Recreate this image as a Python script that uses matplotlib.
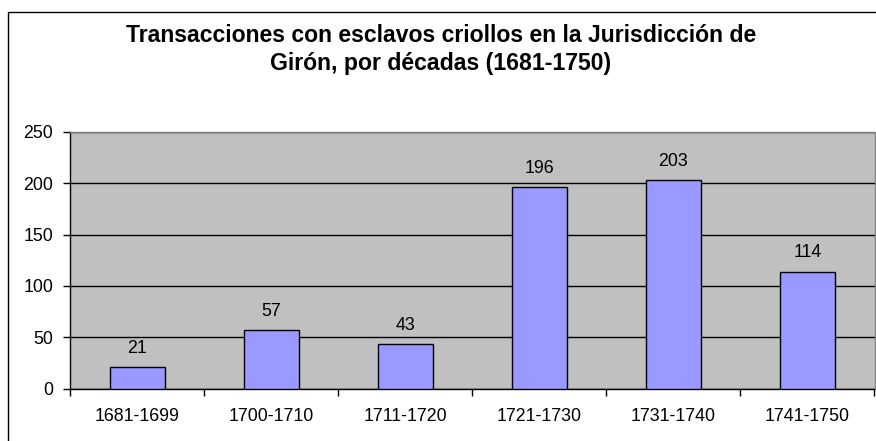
import matplotlib
matplotlib.use("Agg")
import matplotlib.pyplot as plt
from matplotlib.patches import Rectangle

categories = ["1681-1699", "1700-1710", "1711-1720", "1721-1730", "1731-1740", "1741-1750"]
values = [21, 57, 43, 196, 203, 114]
yticks = [0, 50, 100, 150, 200, 250]
title_lines = ["Transacciones con esclavos criollos en la Jurisdicción de",
               "Girón, por décadas (1681-1750)"]

plt.rcParams['font.family'] = ['Liberation Sans', 'DejaVu Sans']

W, H = 876, 441
fig = plt.figure(figsize=(W / 100, H / 100), dpi=100)
fig.patch.set_facecolor('white')

# outer chart border (cropped at right/bottom)
fig.add_artist(Rectangle((7.5 / W, -0.1), 1.2, 1.1 - 12 / H, transform=fig.transFigure,
                         fill=False, edgecolor='black', linewidth=1.0))

left, right, top, bottom = 70, 874.5, 132, 388.5
ax = fig.add_axes([left / W, 1 - bottom / H, (right - left) / W, (bottom - top) / H])
ax.set_facecolor('#C0C0C0')

fs = 12.8
x = list(range(len(categories)))
ax.bar(x, values, width=0.41, color='#9999FF', edgecolor='black', linewidth=1.0, zorder=3)
for xi, v in zip(x, values):
    ax.annotate(str(v), (xi, v), xytext=(0, 10.3), textcoords='offset points',
                ha='center', va='baseline', fontsize=fs, color='black')

ax.set_xlim(-0.5, len(categories) - 0.5)
ax.set_ylim(0, 250)
ax.set_yticks(yticks)
ax.set_yticklabels([str(t) for t in yticks], fontsize=fs)
ax.yaxis.grid(True, color='black', linewidth=1.0, zorder=1)
ax.set_axisbelow(True)

ax.set_xticks(x)
ax.set_xticklabels(categories, fontsize=fs)
ax.tick_params(axis='x', which='major', length=0, pad=14)
ax.set_xticks([i + 0.5 for i in range(-1, len(categories))], minor=True)
ax.tick_params(axis='x', which='minor', length=5, direction='out', width=1, color='black')
ax.tick_params(axis='y', length=5, direction='out', width=1, color='black', pad=7)

for s in ['top', 'right']:
    ax.spines[s].set_color('#808080')
    ax.spines[s].set_linewidth(1.0)
for s in ['left', 'bottom']:
    ax.spines[s].set_color('black')
    ax.spines[s].set_linewidth(1.0)

for line, base in zip(title_lines, [42, 70]):
    fig.text(441 / W, 1 - base / H, line, ha='center', va='baseline', fontsize=16.6,
             fontweight='bold')

fig.savefig('out.png', dpi=100)
